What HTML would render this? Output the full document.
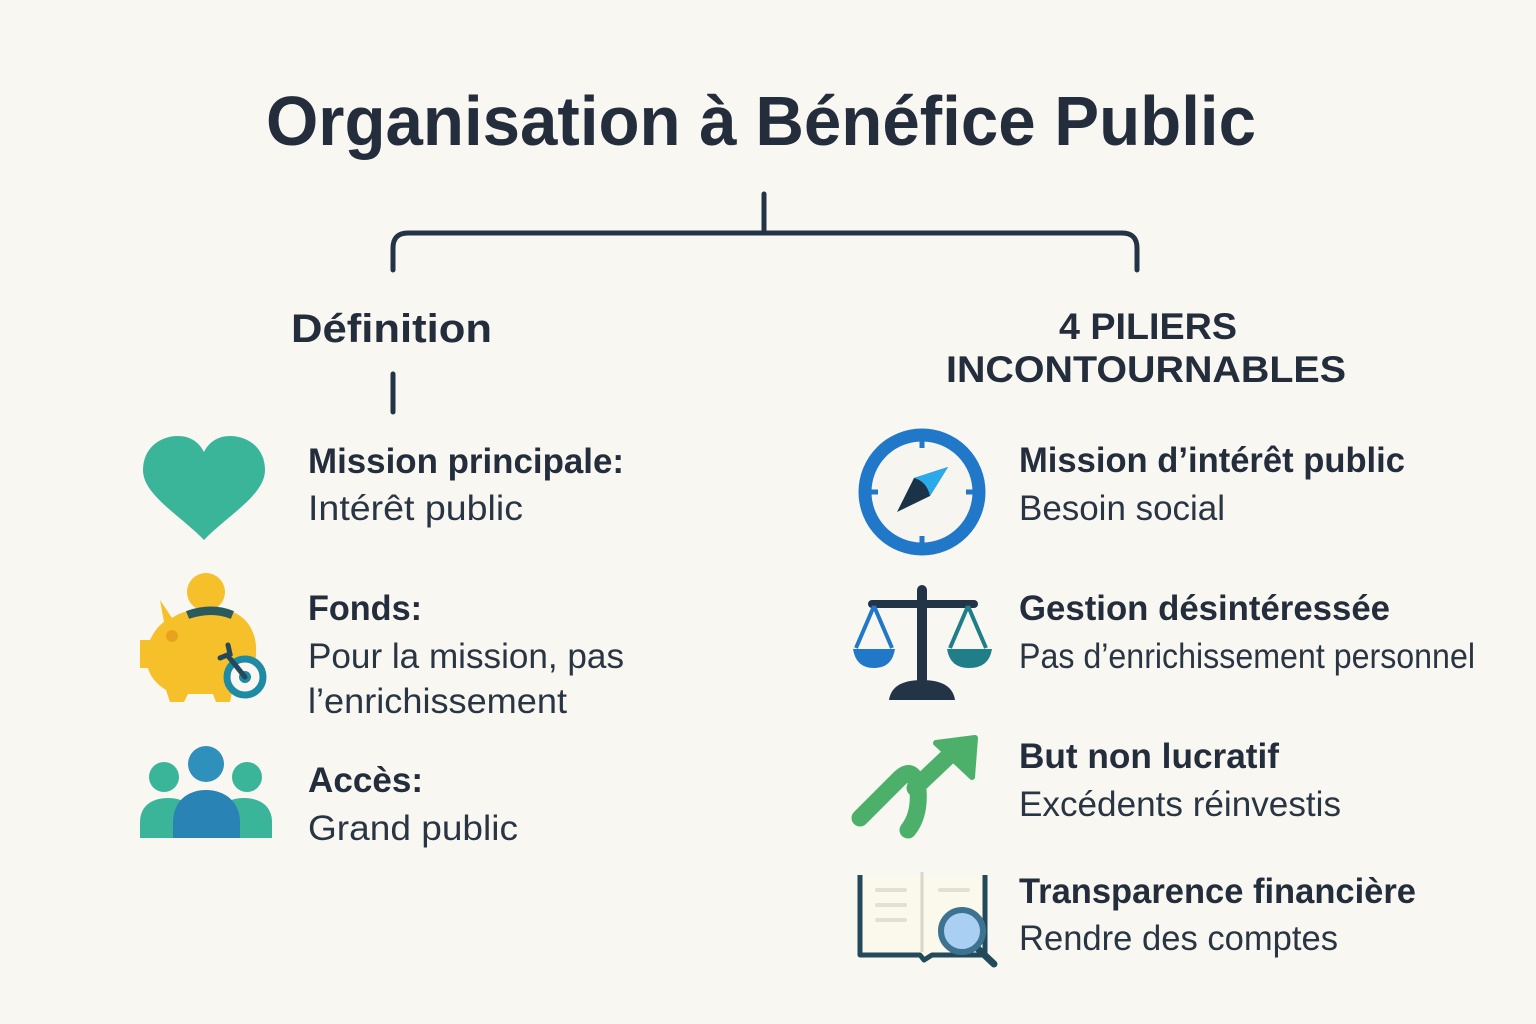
<!DOCTYPE html>
<html><head><meta charset="utf-8"><style>
html,body{margin:0;padding:0;background:#f8f7f2;}
svg{display:block}
.h{font-family:"Liberation Sans",sans-serif;font-weight:bold;fill:#232d3c}
.b{font-family:"Liberation Sans",sans-serif;fill:#2a3544}
</style></head><body>
<svg width="1536" height="1024" viewBox="0 0 1536 1024" xmlns="http://www.w3.org/2000/svg">
<rect width="1536" height="1024" fill="#f8f7f2"/>
<text class="h" x="266" y="145" font-size="70" textLength="990" lengthAdjust="spacingAndGlyphs">Organisation à Bénéfice Public</text>
<g fill="none" stroke="#243447" stroke-width="5" stroke-linecap="round">
<path d="M764 194 V230"/>
<path d="M393 270 V248 Q393 233 408 233 H1122 Q1137 233 1137 248 V270"/>
<path d="M393 374 V412"/>
</g>
<text class="h" x="291" y="342" font-size="40" textLength="201" lengthAdjust="spacingAndGlyphs">Définition</text>
<text class="h" x="1148" y="339" font-size="37" text-anchor="middle" textLength="178" lengthAdjust="spacingAndGlyphs">4 PILIERS</text>
<text class="h" x="946" y="382" font-size="37" textLength="400" lengthAdjust="spacingAndGlyphs">INCONTOURNABLES</text>

<g font-size="35">
<text class="h" x="308" y="473" textLength="316" lengthAdjust="spacingAndGlyphs">Mission principale:</text>
<text class="b" x="308" y="520" textLength="215" lengthAdjust="spacingAndGlyphs">Intérêt public</text>
<text class="h" x="308" y="620" textLength="114" lengthAdjust="spacingAndGlyphs">Fonds:</text>
<text class="b" x="308" y="668" textLength="316" lengthAdjust="spacingAndGlyphs">Pour la mission, pas</text>
<text class="b" x="308" y="713" textLength="259" lengthAdjust="spacingAndGlyphs">l’enrichissement</text>
<text class="h" x="308" y="792" textLength="115" lengthAdjust="spacingAndGlyphs">Accès:</text>
<text class="b" x="308" y="840" textLength="210" lengthAdjust="spacingAndGlyphs">Grand public</text>

<text class="h" x="1019" y="472" textLength="386" lengthAdjust="spacingAndGlyphs">Mission d’intérêt public</text>
<text class="b" x="1019" y="520" textLength="206" lengthAdjust="spacingAndGlyphs">Besoin social</text>
<text class="h" x="1019" y="620" textLength="371" lengthAdjust="spacingAndGlyphs">Gestion désintéressée</text>
<text class="b" x="1019" y="668" textLength="456" lengthAdjust="spacingAndGlyphs">Pas d’enrichissement personnel</text>
<text class="h" x="1019" y="768" textLength="260" lengthAdjust="spacingAndGlyphs">But non lucratif</text>
<text class="b" x="1019" y="816" textLength="322" lengthAdjust="spacingAndGlyphs">Excédents réinvestis</text>
<text class="h" x="1019" y="903" textLength="397" lengthAdjust="spacingAndGlyphs">Transparence financière</text>
<text class="b" x="1019" y="950" textLength="319" lengthAdjust="spacingAndGlyphs">Rendre des comptes</text>
</g>

<!-- heart -->
<path d="M204 540 C180 515 143 495 143 470 C143 448 160 436 178 436 C192 436 200 444 204 452 C208 444 216 436 230 436 C248 436 265 448 265 470 C265 495 228 515 204 540 Z" fill="#3bb59a"/>
<!-- piggy -->
<circle cx="206" cy="592" r="19" fill="#f6c02a"/>
<path d="M160 600 L172 618 C180 612 195 608 212 608 C240 608 258 625 256 655 C255 672 245 686 232 692 L230 702 H216 L213 694 H188 L184 702 H170 L166 690 C156 684 150 676 148 668 H140 V640 H150 C154 632 158 626 164 622 Z" fill="#f6c02a"/>
<path d="M188 612 Q212 604 232 612 L230 617 Q212 610 190 617 Z" fill="#2b5a5c" stroke="#2b5a5c" stroke-width="3"/>
<circle cx="172" cy="636" r="6" fill="#e9a21f"/>
<circle cx="245" cy="677" r="20" fill="#f8f7f2"/>
<circle cx="245" cy="677" r="18" fill="none" stroke="#1f8aa3" stroke-width="7"/>
<circle cx="245" cy="677" r="6" fill="#1f8aa3"/>
<path d="M245 677 L228 656 M220 658 L230 654 L228 645" stroke="#24495a" stroke-width="5" stroke-linecap="round" fill="none"/>
<!-- people -->
<circle cx="164" cy="777" r="15" fill="#3bb59a"/>
<circle cx="247" cy="777" r="15" fill="#3bb59a"/>
<path d="M140 838 V822 C140 806 152 798 168 798 C184 798 196 806 196 822 V838 Z" fill="#3bb59a"/>
<path d="M216 838 V822 C216 806 228 798 244 798 C260 798 272 806 272 822 V838 Z" fill="#3bb59a"/>
<circle cx="206" cy="764" r="18" fill="#2f91bb"/>
<path d="M173 838 V822 C173 802 187 790 206 790 C225 790 240 802 240 822 V838 Z" fill="#2a83b5"/>
<!-- compass -->
<circle cx="922" cy="492" r="57" fill="#f6f5f0" stroke="#2178c8" stroke-width="13"/>
<g stroke="#2178c8" stroke-width="5"><path d="M922 435 V448 M922 536 V549 M865 492 H878 M966 492 H979"/></g>
<path d="M897 512 L914 478 L948 467 L930 496 Z" fill="#1a3347"/>
<path d="M914 478 L948 467 L930 496 C928 486 922 480 914 478 Z" fill="#2aaae8"/>
<!-- scales -->
<g stroke="#243447" stroke-linecap="round" fill="none">
<path d="M922 590 V690" stroke-width="10"/>
<path d="M872 604 H974" stroke-width="8"/>
</g>
<path d="M889 700 Q892 680 922 680 Q952 680 955 700 Z" fill="#243447"/>
<g stroke-width="4" fill="none"><path d="M874 606 L856 648 M874 606 L892 648" stroke="#2178c8"/><path d="M968 606 L950 648 M968 606 L986 648" stroke="#207e88"/></g>
<path d="M853 649 H895 Q892 668 874 668 Q856 668 853 649 Z" fill="#2178c8"/>
<path d="M947 649 H992 Q989 668 969 668 Q950 668 947 649 Z" fill="#207e88"/>
<!-- arrow -->
<path d="M860 818 L900 778 Q914 765 918 790 Q920 815 908 830" stroke="#4cb06b" stroke-width="17" stroke-linecap="round" fill="none"/>
<path d="M915 788 L955 750" stroke="#4cb06b" stroke-width="17" stroke-linecap="round"/>
<path d="M936 743 L975 738 L972 777 Z" fill="#4cb06b" stroke="#4cb06b" stroke-width="6" stroke-linejoin="round"/>
<!-- book -->
<path d="M860 875 V955 H920 L924 960 L932 955 H985 V875" fill="#fbf8ec"/>
<path d="M860 875 V955 H920 L924 960 L932 955 H985 V875" fill="none" stroke="#234a5a" stroke-width="5" stroke-linejoin="round"/>
<path d="M922 872 V952" stroke="#d9d6c8" stroke-width="3"/>
<g stroke="#e3e0d2" stroke-width="4" stroke-linecap="round"><path d="M877 890 H905 M877 905 H905 M877 920 H905 M940 890 H968"/></g>
<path d="M975 946 L994 964" stroke="#234a5a" stroke-width="7" stroke-linecap="round"/>
<circle cx="962" cy="931" r="21" fill="#a9d0f2" stroke="#3d7390" stroke-width="6"/>
</svg>
</body></html>
